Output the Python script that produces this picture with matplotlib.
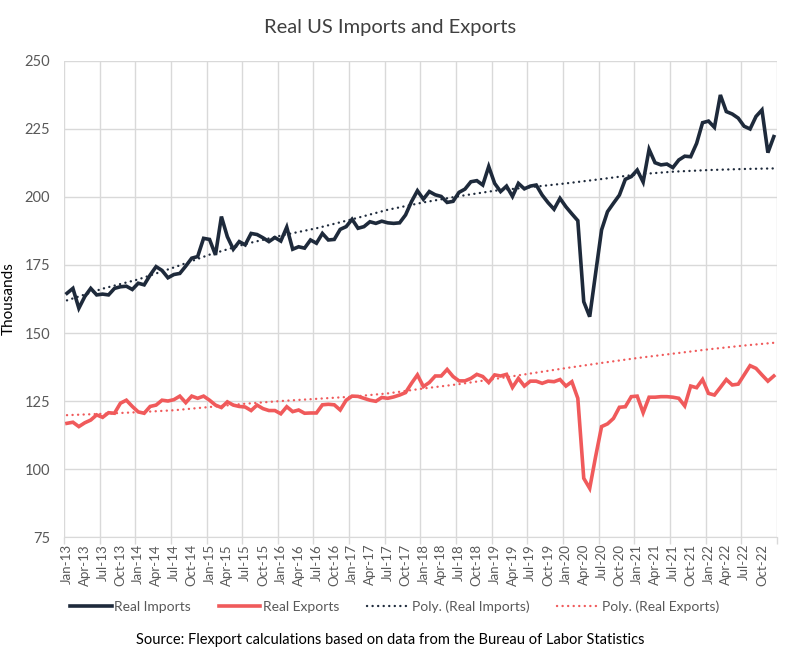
import numpy as np
import pandas as pd
import matplotlib
matplotlib.use('Agg')
import matplotlib.pyplot as plt
from matplotlib.lines import Line2D

plt.rcParams['font.family'] = ['Lato', 'DejaVu Sans']

# monthly values, Jan-2013 .. Dec-2022 (thousands)
months = pd.date_range('2013-01-01', '2022-12-01', freq='MS')
month_labels = [d.strftime('%b-%y') for d in months]

real_imports = [
    164.6, 166.4, 159.1, 163.4, 166.4, 164.0, 164.3, 164.0, 166.4, 167.0, 167.2, 166.0,
    168.3, 167.7, 171.3, 174.4, 173.0, 170.3, 171.5, 171.9, 174.6, 177.5, 178.1, 184.8,
    184.4, 178.7, 192.8, 185.4, 180.8, 183.6, 182.4, 186.6, 186.2, 185.0, 183.6, 185.1,
    183.8, 188.9, 180.8, 181.7, 181.2, 184.2, 183.0, 186.6, 184.2, 184.4, 188.1, 189.1,
    191.8, 188.5, 189.1, 190.9, 190.3, 191.1, 190.5, 190.3, 190.5, 193.4, 198.3, 202.3,
    199.2, 202.0, 200.8, 200.2, 198.0, 198.4, 201.7, 202.9, 205.6, 206.0, 204.4, 211.2,
    205.0, 202.0, 204.0, 200.2, 205.0, 203.0, 204.0, 204.4, 200.7, 197.9, 195.5, 199.5,
    196.4, 193.8, 191.3, 161.5, 156.0, 172.0, 187.9, 194.6, 197.7, 200.7, 206.5, 207.5,
    209.9, 205.5, 217.5, 212.6, 211.8, 212.1, 210.8, 213.6, 215.0, 214.8, 219.7, 227.3,
    227.9, 225.6, 237.5, 231.4, 230.5, 229.0, 226.0, 225.0, 229.6, 232.0, 216.3, 222.2,
]

real_exports = [
    116.8, 117.2, 115.6, 117.0, 118.0, 119.9, 119.0, 120.7, 120.5, 124.2, 125.3, 123.0,
    121.0, 120.5, 123.0, 123.5, 125.3, 125.0, 125.5, 126.8, 124.4, 126.8, 126.0, 126.8,
    125.3, 123.5, 122.6, 124.7, 123.5, 123.0, 122.8, 121.5, 123.5, 122.2, 121.5, 121.5,
    120.3, 122.9, 121.1, 121.7, 120.5, 120.6, 120.6, 123.6, 123.8, 123.6, 121.7, 125.3,
    126.8, 126.7, 126.0, 125.3, 124.9, 126.3, 126.0, 126.5, 127.2, 128.1, 131.5, 134.6,
    130.3, 131.8, 134.2, 134.2, 136.6, 134.0, 132.4, 132.4, 133.3, 134.8, 134.0, 131.8,
    134.6, 134.2, 134.8, 130.0, 133.3, 130.5, 132.3, 132.3, 131.5, 132.3, 132.1, 132.9,
    130.5, 132.1, 126.0, 96.6, 92.9, 104.6, 115.6, 116.6, 118.6, 122.7, 122.9, 126.6,
    126.8, 120.7, 126.4, 126.4, 126.6, 126.6, 126.4, 126.0, 123.2, 130.5, 129.9, 132.9,
    127.8, 127.2, 130.0, 132.9, 130.9, 131.2, 134.6, 138.0, 137.0, 134.6, 132.3, 134.2,
]

# Excel "Poly." trendlines, every 6 months
trend_idx = [0, 6, 12, 18, 24, 30, 36, 42, 48, 54, 60, 66, 72, 78, 84, 90, 96, 102, 108, 114, 119]
imports_trend = [162.0, 166.3, 169.7, 174.1, 178.8, 182.7, 185.8, 188.5, 191.8, 195.3, 198.0,
                 200.3, 202.3, 203.6, 205.0, 206.6, 208.3, 209.3, 209.9, 210.3, 210.5]
exports_trend = [119.8, 120.3, 120.9, 121.6, 122.8, 124.0, 125.0, 125.8, 126.6, 127.8, 129.6,
                 131.2, 133.1, 135.1, 137.1, 139.0, 140.8, 142.4, 144.0, 145.4, 146.4]

y_ticks = [75, 100, 125, 150, 175, 200, 225, 250]

# colors
imp_color = '#1E2A3B'
exp_color = '#F05A5B'
grid_color = '#D9D9D9'
text_color = '#595959'
dots = (0, (0.05, 2.3))   # round dots

x = np.arange(len(months))

fig = plt.figure(figsize=(8, 6.57), dpi=100)
ax = fig.add_axes([0.080, 0.1826, 0.891, 0.7246])

# plot the series
ax.plot(x, real_imports, color=imp_color, lw=2.6, solid_joinstyle='miter', zorder=3)
ax.plot(x, real_exports, color=exp_color, lw=2.6, solid_joinstyle='miter', zorder=3)

# plot the trendlines
ax.plot(trend_idx, imports_trend, color=imp_color, lw=1.7, ls=dots,
        dash_capstyle='round', zorder=4)
ax.plot(trend_idx, exports_trend, color=exp_color, lw=1.7, ls=dots,
        dash_capstyle='round', zorder=4)

# axes limits and ticks
ax.set_xlim(-0.5, len(months) - 0.5)
ax.set_ylim(75, 250)
ax.set_yticks(y_ticks)
ax.set_xticks(x[::3])
ax.set_xticklabels(month_labels[::3], rotation=90, fontsize=9.5, color=text_color)
ax.set_xticks(np.arange(-0.5, len(months), 6), minor=True)
ax.tick_params(axis='x', which='major', length=0, pad=5)
ax.tick_params(axis='x', which='minor', length=5, color=grid_color, width=1)
ax.tick_params(axis='y', length=0, labelsize=10.5, labelcolor=text_color, pad=10)

# gridlines
ax.grid(True, axis='y', color=grid_color, lw=1)
ax.grid(True, axis='x', which='minor', color=grid_color, lw=1)
ax.set_axisbelow(True)
for s in ['top', 'right', 'left']:
    ax.spines[s].set_visible(False)
ax.spines['bottom'].set_color(grid_color)

ax.set_ylabel('Thousands', fontsize=11, color='black', labelpad=6)

# title and source
fig.text(0.488, 1 - 28 / 657, 'Real US Imports and Exports', ha='center', va='center',
         fontsize=14.5, color='#404040')
fig.text(0.488, 1 - 640 / 657,
         'Source: Flexport calculations based on data from the Bureau of Labor Statistics',
         ha='center', va='center', fontsize=10.5, color='black')

# legend
handles = [
    Line2D([], [], color=imp_color, lw=2.6),
    Line2D([], [], color=exp_color, lw=2.6),
    Line2D([], [], color=imp_color, lw=1.7, ls=dots, dash_capstyle='round'),
    Line2D([], [], color=exp_color, lw=1.7, ls=dots, dash_capstyle='round'),
]
labels = ['Real Imports', 'Real Exports', 'Poly. (Real Imports)', 'Poly. (Real Exports)']
fig.legend(handles, labels, loc='center', ncol=4, frameon=False,
           bbox_to_anchor=(0.493, 1 - 607 / 657), fontsize=10,
           handlelength=3.0, handletextpad=0.2, columnspacing=2.0,
           labelcolor=text_color)

plt.savefig('out.png', dpi=100)
